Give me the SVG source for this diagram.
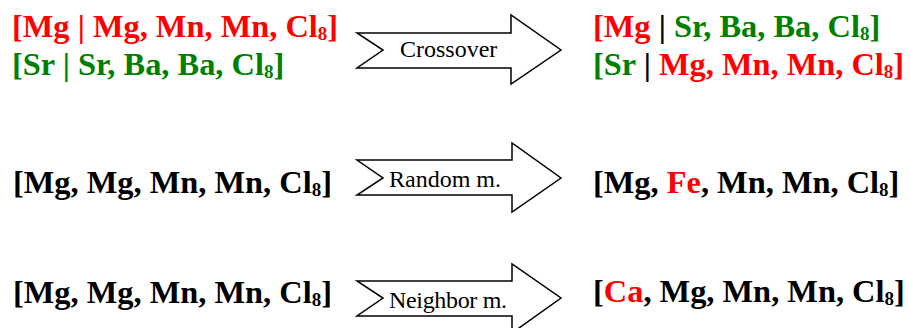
<svg xmlns="http://www.w3.org/2000/svg" width="910" height="328" viewBox="0 0 910 328">
<style>
.t{font-family:"Liberation Serif","Times New Roman",serif;font-weight:bold;font-size:32.4px;fill:#000}
.r{fill:#ff0000}
.g{fill:#008000}
.k{fill:#000}
.s{font-size:19px}
.lbl{font-family:"Liberation Serif","Times New Roman",serif;font-size:24px;fill:#000}
.arr{fill:#fff;stroke:#000;stroke-width:1.5;stroke-linejoin:miter}
</style>
<rect width="910" height="328" fill="#fff"/>
<g id="connectors">
<g id="arrow-crossover">
<path class="arr" d="M357,33 L511,33 L511,15 L561,50 L511,84 L511,68 L357,68 L383,50 Z"/>
<text class="lbl" x="400" y="57">Crossover</text>
</g>
<g id="arrow-random">
<path class="arr" d="M357,160 L512,160 L512,143 L561,178 L512,212 L512,195 L357,195 L383,178 Z"/>
<text class="lbl" x="389" y="187">Random m.</text>
</g>
<g id="arrow-neighbor">
<path class="arr" d="M357,281 L512,281 L512,264 L561,298 L512,333 L512,316 L357,316 L383,298 Z"/>
<text class="lbl" x="389" y="308" textLength="118">Neighbor m.</text>
</g>
</g>
<g id="parent1">
<text class="t r" x="12" y="37">[Mg | Mg, Mn, Mn, Cl<tspan class="s" dy="3">8</tspan><tspan dy="-3">]</tspan></text>
</g>
<g id="parent2">
<text class="t g" x="12" y="75">[Sr | Sr, Ba, Ba, Cl<tspan class="s" dy="3">8</tspan><tspan dy="-3">]</tspan></text>
</g>
<g id="child1">
<text class="t" x="593" y="37"><tspan class="r">[Mg </tspan><tspan class="k">|</tspan><tspan class="g"> Sr, Ba, Ba, Cl</tspan><tspan class="s g" dy="3">8</tspan><tspan class="g" dy="-3">]</tspan></text>
</g>
<g id="child2">
<text class="t" x="593" y="75"><tspan class="g">[Sr </tspan><tspan class="k">|</tspan><tspan class="r"> Mg, Mn, Mn, Cl</tspan><tspan class="s r" dy="3">8</tspan><tspan class="r" dy="-3">]</tspan></text>
</g>
<g id="random-in">
<text class="t" x="13" y="193">[Mg, Mg, Mn, Mn, Cl<tspan class="s" dy="3">8</tspan><tspan dy="-3">]</tspan></text>
</g>
<g id="random-out">
<text class="t" x="593" y="193">[Mg, <tspan class="r">Fe</tspan>, Mn, Mn, Cl<tspan class="s" dy="3">8</tspan><tspan dy="-3">]</tspan></text>
</g>
<g id="neighbor-in">
<text class="t" x="13" y="303">[Mg, Mg, Mn, Mn, Cl<tspan class="s" dy="3">8</tspan><tspan dy="-3">]</tspan></text>
</g>
<g id="neighbor-out">
<text class="t" x="593" y="302">[<tspan class="r">Ca</tspan>, Mg, Mn, Mn, Cl<tspan class="s" dy="3">8</tspan><tspan dy="-3">]</tspan></text>
</g>
</svg>
